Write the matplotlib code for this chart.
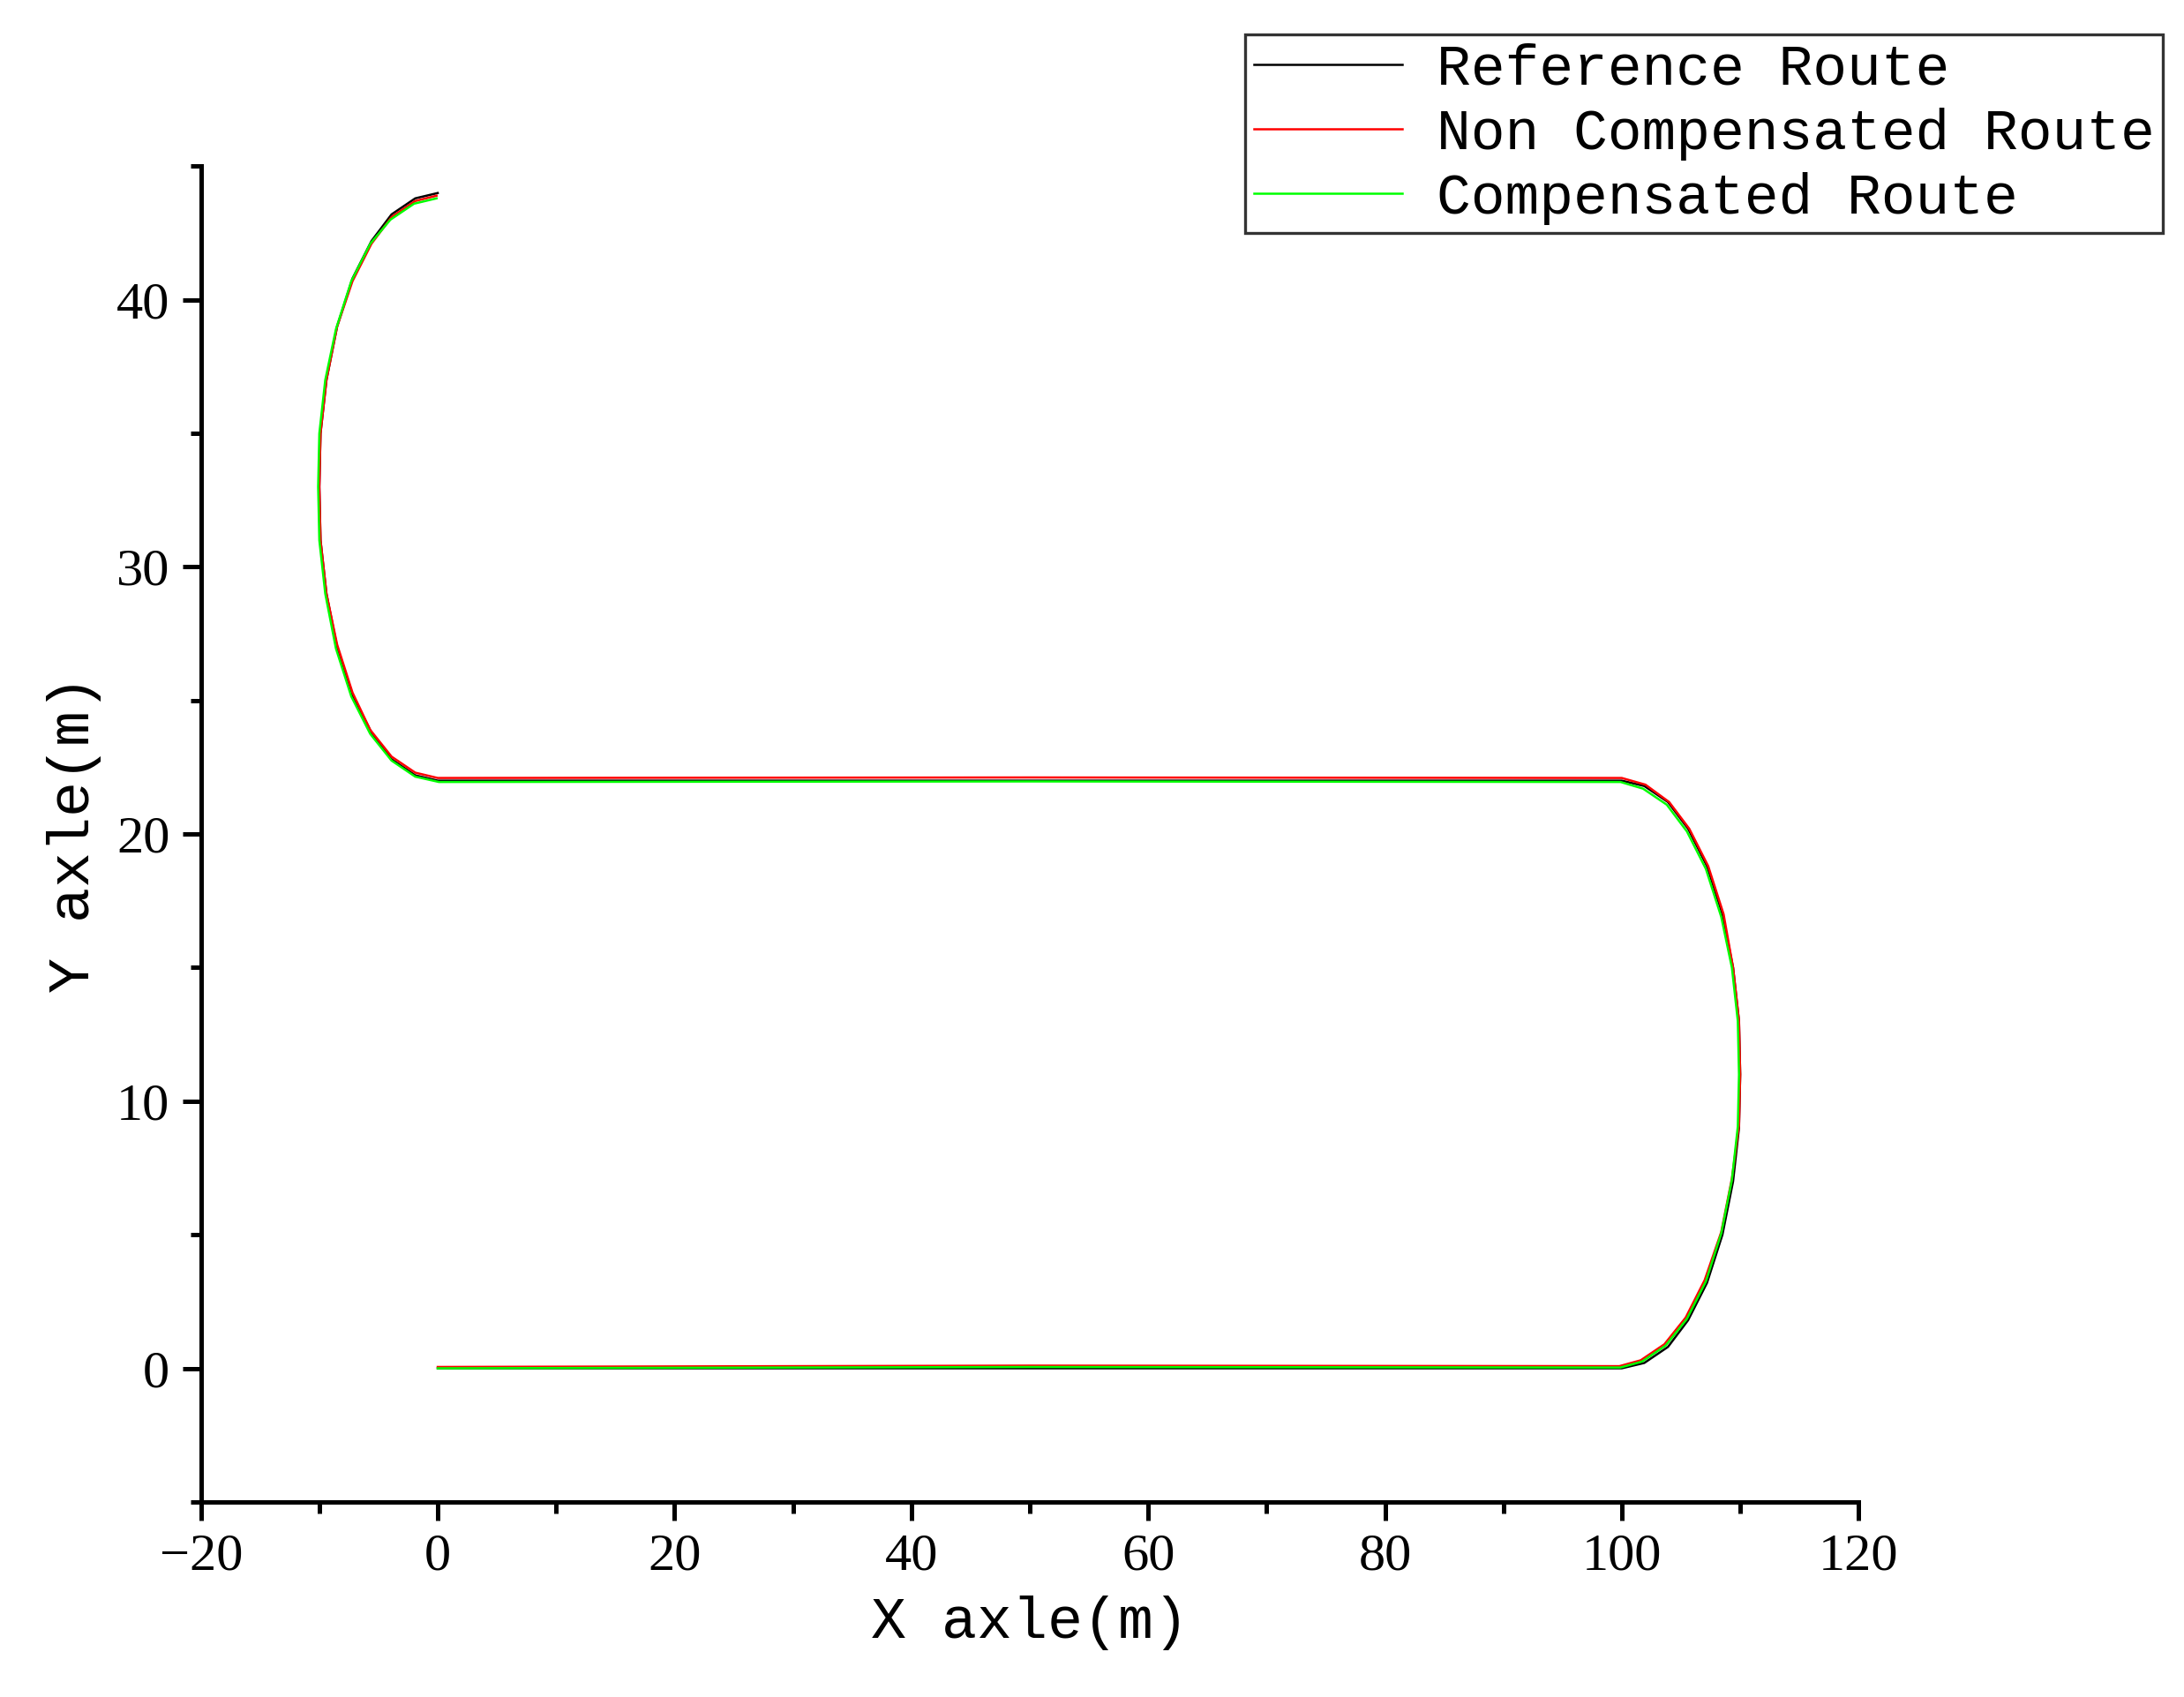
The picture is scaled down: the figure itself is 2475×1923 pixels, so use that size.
import matplotlib.pyplot as plt
from matplotlib.ticker import MultipleLocator

# route points
ref_x = [0, 50, 100, 101.9, 103.9, 105.6, 107.2, 108.5, 109.4, 109.9, 110, 109.9, 109.4, 108.5, 107.2, 105.6, 103.9, 101.9, 100,
         50, 0, -1.9, -3.9, -5.6, -7.2, -8.5, -9.4, -9.9, -10, -9.9, -9.4, -8.5, -7.2, -5.6, -3.9, -1.9, 0]
ref_y = [0, 0, 0, 0.2, 0.8, 1.8, 3.2, 5, 7, 9, 11, 13, 15, 17, 18.8, 20.2, 21.2, 21.8, 22,
         22, 22, 22.2, 22.8, 23.8, 25.2, 27, 29, 31, 33, 35, 37, 39, 40.8, 42.2, 43.2, 43.8, 44]

nc_x = [0, 50, 99.8, 101.6, 103.6, 105.4, 107.0, 108.4, 109.3, 109.9, 110, 109.9, 109.4, 108.6, 107.3, 105.7, 104.0, 102.0, 100,
        50, 0, -1.9, -3.9, -5.7, -7.2, -8.5, -9.4, -9.9, -10, -9.9, -9.4, -8.5, -7.2, -5.6, -3.9, -1.9, -0.1]
nc_y = [0.05, 0.1, 0.08, 0.3, 0.9, 1.9, 3.3, 5.1, 7.1, 9.1, 11, 13, 15, 17, 18.8, 20.2, 21.2, 21.85, 22.1,
        22.12, 22.1, 22.3, 22.9, 23.9, 25.3, 27.1, 29, 31, 33, 35, 37, 39, 40.7, 42.1, 43.1, 43.7, 43.9]

c_x = [0, 50, 99.9, 101.7, 103.7, 105.5, 107.1, 108.4, 109.3, 109.8, 109.9, 109.8, 109.3, 108.4, 107.1, 105.5, 103.8, 101.8, 99.9,
       50, 0.1, -1.9, -3.9, -5.7, -7.3, -8.6, -9.5, -10.0, -10.1, -10.0, -9.5, -8.6, -7.3, -5.7, -4.0, -2.0, -0.1]
c_y = [0, 0.05, 0.03, 0.25, 0.85, 1.85, 3.25, 5.05, 7.05, 9.05, 11, 13, 15, 16.9, 18.7, 20.1, 21.1, 21.7, 21.95,
       21.97, 21.95, 22.15, 22.75, 23.75, 25.15, 26.95, 29, 31, 33, 35, 37, 38.9, 40.7, 42.1, 43.0, 43.6, 43.8]

mono = 'Liberation Mono'
serif = 'Liberation Serif'

fig = plt.figure(figsize=(8.25, 6.41), dpi=300)
ax = fig.add_axes([0.092, 0.115, 0.759, 0.787])

ax.plot(ref_x, ref_y, color='black', lw=0.6, label='Reference Route')
ax.plot(nc_x, nc_y, color='red', lw=0.6, label='Non Compensated Route')
ax.plot(c_x, c_y, color='#00ff00', lw=0.6, label='Compensated Route')

ax.set_xlim(-20, 120)
ax.set_ylim(-5, 45)
ax.xaxis.set_major_locator(MultipleLocator(20))
ax.xaxis.set_minor_locator(MultipleLocator(10))
ax.yaxis.set_major_locator(MultipleLocator(10))
ax.yaxis.set_minor_locator(MultipleLocator(5))
for s in ['top', 'right']:
    ax.spines[s].set_visible(False)
for s in ['left', 'bottom']:
    ax.spines[s].set_linewidth(1.2)
ax.tick_params(which='major', direction='out', length=5, width=1.2, labelsize=14.5)
ax.tick_params(which='minor', direction='out', length=3, width=1.2)
for lab in ax.get_xticklabels() + ax.get_yticklabels():
    lab.set_family(serif)

ax.set_xlabel('X axle(m)', family=mono, fontsize=16)
ax.set_ylabel('Y axle(m)', family=mono, fontsize=16)

leg = fig.legend(loc='upper right', bbox_to_anchor=(0.993, 0.983), prop={'family': mono, 'size': 15.5},
                 frameon=True, fancybox=False, edgecolor='black', handlelength=2.6,
                 borderpad=0.15, labelspacing=0.2, handletextpad=0.6, borderaxespad=0.1)
leg.get_frame().set_linewidth(0.8)

fig.savefig('out.png', dpi=300)
